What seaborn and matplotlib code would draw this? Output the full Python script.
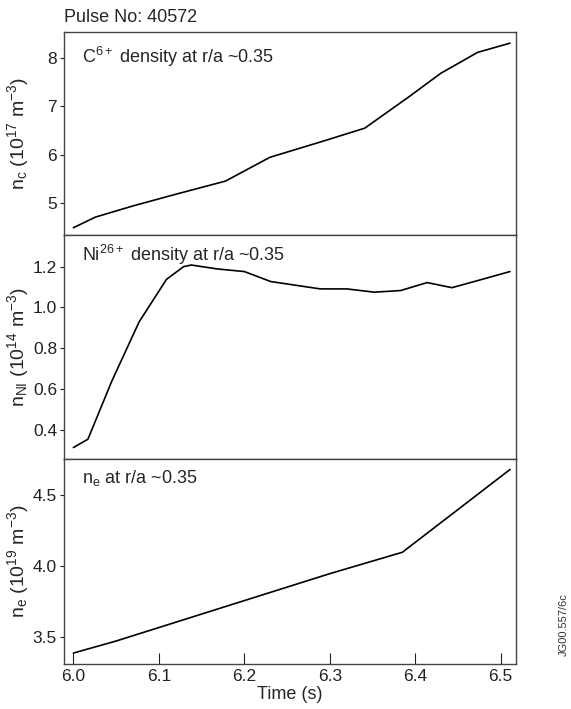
import matplotlib
matplotlib.use("Agg")
import matplotlib.pyplot as plt
import seaborn as sns
import pandas as pd

# ---- data ----
t_c = [6.0, 6.026, 6.07, 6.12, 6.178, 6.23, 6.29, 6.341, 6.393, 6.43, 6.473, 6.511]
n_c = [4.50, 4.72, 4.95, 5.19, 5.46, 5.95, 6.27, 6.55, 7.20, 7.68, 8.11, 8.30]

t_ni = [6.0, 6.017, 6.045, 6.077, 6.109, 6.129, 6.138, 6.168, 6.2, 6.231, 6.289,
        6.32, 6.352, 6.383, 6.414, 6.443, 6.469, 6.511]
n_ni = [0.314, 0.355, 0.64, 0.93, 1.138, 1.20, 1.208, 1.189, 1.176, 1.127, 1.091,
        1.091, 1.075, 1.083, 1.122, 1.097, 1.127, 1.176]

t_e = [6.0, 6.05, 6.1, 6.15, 6.2, 6.3, 6.385, 6.511]
n_e = [3.385, 3.47, 3.565, 3.66, 3.755, 3.945, 4.096, 4.68]

x_ticks = [6.0, 6.1, 6.2, 6.3, 6.4, 6.5]
c_ticks = [5, 6, 7, 8]
ni_ticks = [0.4, 0.6, 0.8, 1.0, 1.2]
e_ticks = [3.5, 4.0, 4.5]

sns.set_theme(style="ticks")
plt.rcParams['font.family'] = ['Liberation Sans', 'DejaVu Sans']
plt.rcParams['mathtext.fontset'] = 'custom'
plt.rcParams['mathtext.rm'] = 'Liberation Sans'
plt.rcParams['mathtext.it'] = 'Liberation Sans'
plt.rcParams['mathtext.default'] = 'regular'

FS = 13
FT = 12.5
FY = 14
fig = plt.figure(figsize=(5.71, 7.09), dpi=100)
L, W = 64 / 571, 452 / 571
ax1 = fig.add_axes([L, 1 - 235 / 709, W, 203 / 709])
ax2 = fig.add_axes([L, 1 - 459 / 709, W, 224 / 709])
ax3 = fig.add_axes([L, 1 - 663.7 / 709, W, 204.7 / 709])

df_c = pd.DataFrame({"Time": t_c, "val": n_c})
df_ni = pd.DataFrame({"Time": t_ni, "val": n_ni})
df_e = pd.DataFrame({"Time": t_e, "val": n_e})

for ax, df in [(ax1, df_c), (ax2, df_ni), (ax3, df_e)]:
    sns.lineplot(data=df, x="Time", y="val", ax=ax, color="black", linewidth=1.2,
                 sort=False, estimator=None)
    ax.set_xlim(5.989, 6.518)
    for s in ax.spines.values():
        s.set_color("#444444")
        s.set_linewidth(1.0)
    ax.tick_params(axis="y", direction="out", length=3, width=0.8, labelsize=FT,
                   pad=2, colors="#222222")
    ax.set_xlabel("")

ax1.set_ylim(4.35, 8.53)
ax1.set_yticks(c_ticks)
ax2.set_ylim(0.258, 1.355)
ax2.set_yticks(ni_ticks)
ax2.set_yticklabels([f"{v:.1f}" for v in ni_ticks])
ax3.set_ylim(3.31, 4.754)
ax3.set_yticks(e_ticks)
ax3.set_yticklabels([f"{v:.1f}" for v in e_ticks])

for ax in (ax1, ax2):
    ax.set_xticks([])
    ax.tick_params(axis="x", length=0, labelbottom=False)

ax3.set_xticks(x_ticks)
ax3.set_xticklabels([f"{v:.1f}" for v in x_ticks])
ax3.tick_params(axis="x", direction="in", length=8, width=0.8, labelsize=FT, pad=4,
                colors="#222222")
ax3.set_xlabel("Time (s)", fontsize=FS, labelpad=1)

ax1.set_ylabel(r"n$_c$ (10$^{17}$ m$^{-3}$)", fontsize=FY)
ax2.set_ylabel(r"n$_{NI}$ (10$^{14}$ m$^{-3}$)", fontsize=FY)
ax3.set_ylabel(r"n$_e$ (10$^{19}$ m$^{-3}$)", fontsize=FY)
for ax in (ax1, ax2, ax3):
    ax.yaxis.set_label_coords(-0.072, 0.5)

ax1.text(0.04, 0.935, r"C$^{6+}$ density at r/a ~0.35", transform=ax1.transAxes,
         fontsize=FS, va="top", ha="left")
ax2.text(0.04, 0.965, r"Ni$^{26+}$ density at r/a ~0.35", transform=ax2.transAxes,
         fontsize=FS, va="top", ha="left")
ax3.text(0.04, 0.955, r"n$_e$ at r/a ~0.35", transform=ax3.transAxes,
         fontsize=FS, va="top", ha="left")

fig.text(L, 1 - 18 / 709, "Pulse No: 40572", fontsize=FS, ha="left", va="center")
fig.text(564 / 571, 1 - 625 / 709, "JG00.557/6c", fontsize=8, rotation=90,
         ha="center", va="center", color="#333333")

fig.savefig("out.png", dpi=100)
